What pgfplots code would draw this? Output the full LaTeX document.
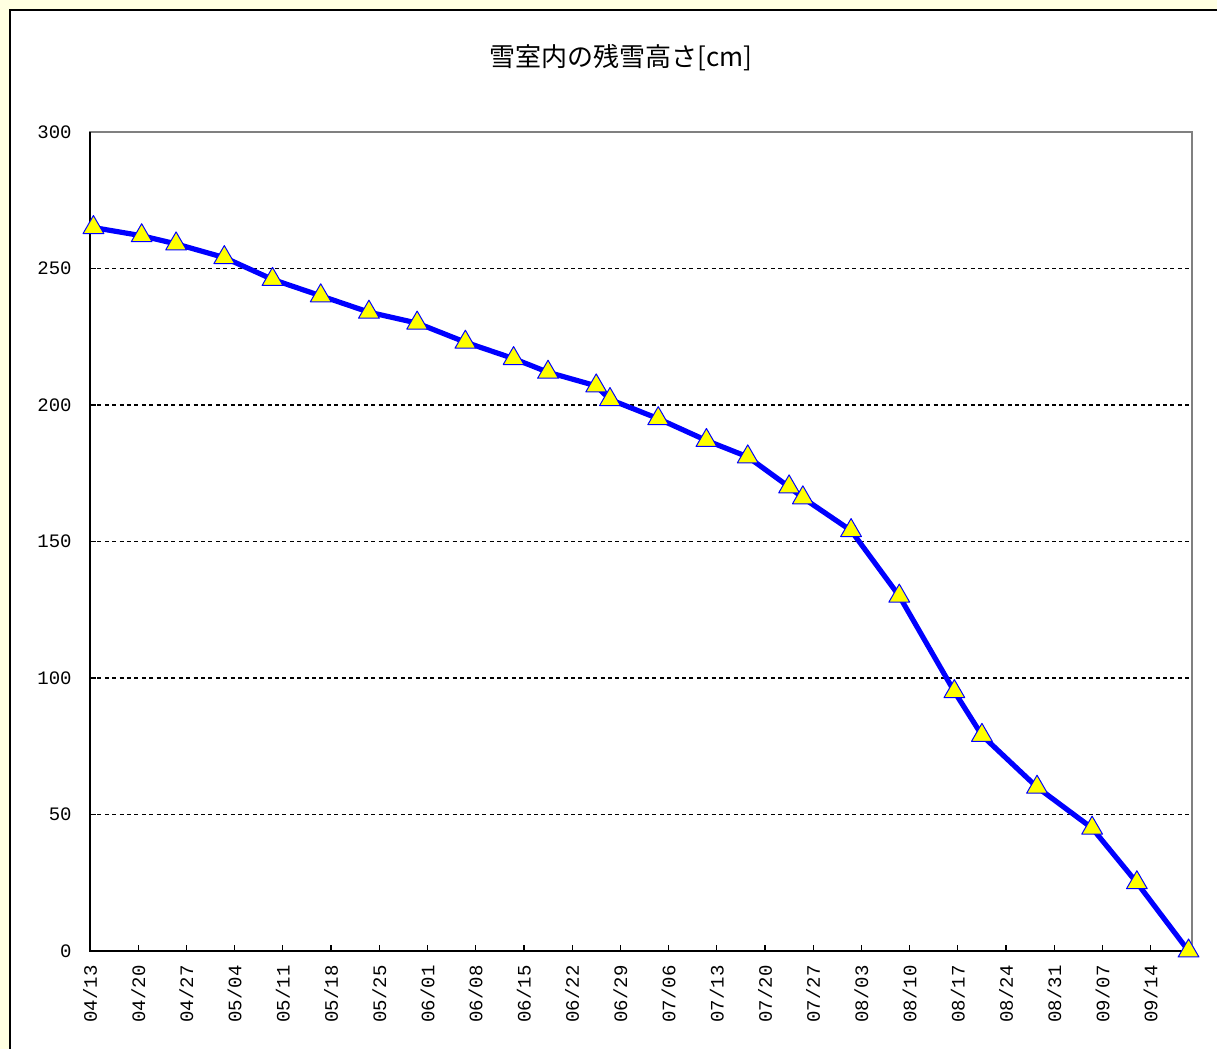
\documentclass[border=0pt]{standalone}
\usepackage{fontspec}
\setmainfont{Noto Sans CJK JP}
\setmonofont{Liberation Mono}
\newfontfamily\cjk{Noto Sans CJK JP}
\usepackage{pgfplots}
\pgfplotsset{compat=1.18}
\definecolor{bgyellow}{RGB}{255,255,225}
\definecolor{framegray}{RGB}{128,128,128}
\definecolor{lineblue}{RGB}{0,0,255}
\definecolor{markyellow}{RGB}{255,255,0}

\begin{document}
\begin{tikzpicture}
\fill[bgyellow] (-45pt,-49pt) rectangle (563.5pt,475.5pt);
\useasboundingbox (-45pt,-49pt) rectangle (563.5pt,475.5pt);
\fill[white] (-40pt,-49pt) rectangle (563.5pt,470.5pt);
\draw[black, line width=1pt] (-40pt,-49pt) -- (-40pt,470.5pt) -- (563.5pt,470.5pt);
\node[font=\cjk\fontsize{13}{14}\selectfont] at (265.5pt,446.5pt) {雪室内の残雪高さ[cm]};
\begin{axis}[
  scale only axis, width=551pt, height=409.5pt,
  xmin=0, xmax=160, ymin=0, ymax=300,
  clip=false,
  xtick={0,7,...,154},
  xticklabels={04/13,04/20,04/27,05/04,05/11,05/18,05/25,06/01,06/08,06/15,06/22,06/29,07/06,07/13,07/20,07/27,08/03,08/10,08/17,08/24,08/31,09/07,09/14},
  ytick={0,50,...,300},
  extra y ticks={50,100,150,200,250},
  extra y tick labels={},
  extra y tick style={ymajorgrids=true, major tick length=0pt},
  grid style={black, dash pattern=on 2pt off 1.7pt, line width=0.6pt},
  xtick pos=bottom, ytick pos=left,
  tick align=inside, major tick length=3pt,
  tick style={black, line width=0.6pt},
  axis line style={draw=framegray, line width=0.7pt},
  /pgf/number format/assume math mode=true,
  xticklabel style={rotate=90, anchor=east, inner xsep=7pt, inner ysep=0pt, font=\ttfamily\fontsize{9.5}{10}\selectfont},
  yticklabel style={anchor=east, inner xsep=9pt, inner ysep=0pt, font=\ttfamily\fontsize{9.5}{10}\selectfont},
]
\addplot[lineblue, line width=2.6pt, line join=round, mark=triangle*, mark size=6pt,
  mark options={fill=markyellow, draw=lineblue, line width=0.5pt, solid}] coordinates {
(0.5,265)(7.5,262)(12.5,259)(19.5,254)(26.5,246)(33.5,240)(40.5,234)(47.5,230)(54.5,223)(61.5,217)(66.5,212)(73.5,207)(75.5,202)(82.5,195)(89.5,187)(95.5,181)(101.5,170)(103.5,166)(110.5,154)(117.5,130)(125.5,95)(129.5,79)(137.5,60)(145.5,45)(152,25)(159.5,0)
};
\draw[black, line width=1pt] (rel axis cs:0,1) -- (rel axis cs:0,0) -- (rel axis cs:1,0);
\end{axis}
\end{tikzpicture}
\end{document}
